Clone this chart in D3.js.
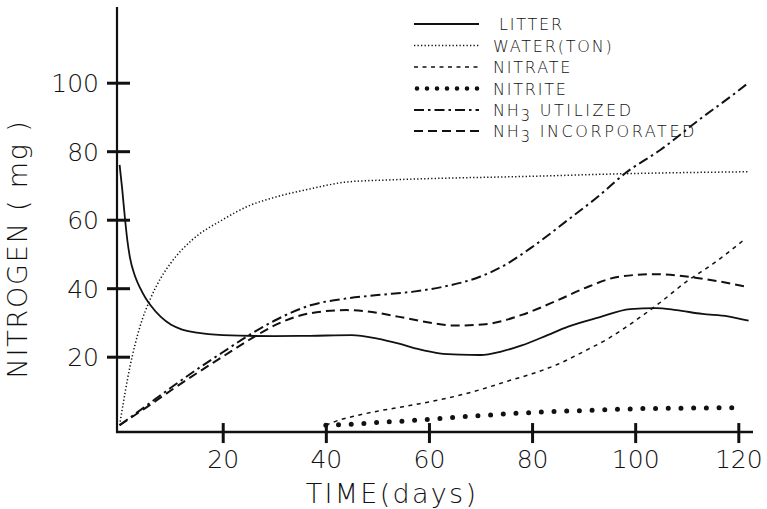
<!DOCTYPE html>
<html>
<head>
<meta charset="utf-8">
<script src="https://cdn.jsdelivr.net/npm/d3@7"></script>
<style>
  html, body { margin: 0; padding: 0; background: #fff; }
  svg { display: block; }
  text { font-family: "DejaVu Sans", sans-serif; fill: #111; }
</style>
</head>
<body>
<svg id="chart" width="767" height="509"></svg>
<script>
// ---- data (days, mg N) ----
const litterDays   = [0, 0.5, 1, 1.5, 2, 3, 4, 5, 6, 8, 10, 12, 15, 20, 30, 37, 45, 50, 54, 58, 62, 66, 70, 74, 78, 83, 87, 93, 99, 104, 108, 113, 118, 122];
const litterVals   = [76, 69, 61, 54, 49, 43.5, 40, 37.2, 35, 31.6, 29.3, 28, 27, 26.3, 26, 26.1, 26.3, 25.3, 23.9, 22.2, 21, 20.6, 20.5, 21.5, 23.3, 26.3, 28.8, 31.5, 33.9, 34.2, 33.6, 32.5, 31.8, 30.5];

const waterDays    = [0, 2, 4, 6, 8, 10, 14, 20, 25, 30, 37, 44, 52, 60, 78, 100, 122];
const waterVals    = [0, 17, 29, 37, 43, 47.5, 54, 60, 64, 66.5, 69, 71, 71.6, 72, 72.6, 73.5, 74];

const nitrateDays  = [40, 42, 46, 50, 55, 60, 65, 70, 76, 80, 85, 90, 95, 100, 105, 110, 115, 121];
const nitrateVals  = [0, 1.2, 2.8, 4.1, 5.4, 6.8, 8.4, 10.4, 13.2, 15, 17.8, 21.5, 25.5, 30.5, 36, 42, 47, 54];

const nitriteDays  = [40, 45, 50, 55, 60, 65, 70, 75, 80, 90, 100, 110, 120];
const nitriteVals  = [0, 0.3, 0.8, 1.2, 1.7, 2.3, 2.8, 3.3, 3.7, 4.3, 4.8, 5, 5.1];

const utilDays     = [0, 5, 10, 15, 20, 25, 30, 37, 44, 50, 57, 63, 70, 75, 80, 87, 93, 98, 105, 112.5, 119, 122];
const utilVals     = [0, 5.5, 11, 16.3, 21.3, 26.2, 30.5, 35, 37, 38, 39, 40.5, 43.4, 47, 52, 60, 67, 73.5, 80.5, 89.3, 96.5, 100];

const incorpDays   = [0, 5, 10, 15, 20, 25, 31, 37, 44, 50, 54, 60, 65, 71, 78, 85, 91, 97, 104, 112, 122];
const incorpVals   = [0, 5, 10.2, 15.2, 20, 24.8, 29.8, 32.7, 33.6, 32.8, 31.7, 30, 29.1, 29.5, 32.2, 36.5, 40.5, 43.4, 44.1, 43, 40.3];

const xTicks = [20, 40, 60, 80, 100, 120];
const yTicks = [20, 40, 60, 80, 100];

const seriesNames = ["LITTER", "WATER(TON)", "NITRATE", "NITRITE", "NH3 UTILIZED", "NH3 INCORPORATED"];

// ---- build ----
const svg = d3.select("#chart");
const x = d3.scaleLinear().domain([0, 120]).range([119.6, 738.3]);
const y = d3.scaleLinear().domain([0, 100]).range([425.2, 82.7]);

const axisX0 = 117;          // y-axis line position
const axisY0 = y(-2);        // x-axis line position

// axis lines
svg.append("line").attr("x1", axisX0).attr("x2", axisX0).attr("y1", 7).attr("y2", axisY0 + 1)
  .attr("stroke", "#111").attr("stroke-width", 2.2);
svg.append("line").attr("x1", axisX0 - 1).attr("x2", 753).attr("y1", axisY0).attr("y2", axisY0)
  .attr("stroke", "#111").attr("stroke-width", 2.4);

// y axis ticks / labels
const gy = svg.append("g").attr("transform", `translate(${axisX0},0)`)
  .call(d3.axisLeft(y).tickValues(yTicks).tickSize(10).tickFormat(d3.format("d")));
gy.select(".domain").remove();
gy.selectAll(".tick line").attr("x1", -10).attr("x2", 13).attr("stroke", "#111").attr("stroke-width", 3);
gy.selectAll(".tick text").attr("x", -18).attr("dy", "0.36em")
  .style("font-size", "25px").style("font-family", "DejaVu Sans").style("font-weight", "200").attr("fill", "#111");

// x axis ticks / labels
const gx = svg.append("g").attr("transform", `translate(0,${axisY0})`)
  .call(d3.axisBottom(x).tickValues(xTicks).tickSize(10).tickFormat(d3.format("d")));
gx.select(".domain").remove();
gx.selectAll(".tick line").attr("y1", -9).attr("y2", 11).attr("stroke", "#111").attr("stroke-width", 3);
gx.selectAll(".tick text").attr("y", 18).attr("dy", "0.71em")
  .style("font-size", "25px").style("font-family", "DejaVu Sans").style("font-weight", "200").attr("fill", "#111");

// axis titles
svg.append("text").attr("x", 392).attr("y", 503).attr("text-anchor", "middle")
  .style("font-size", "27px").style("font-weight", "200").style("letter-spacing", "2.3px")
  .text("TIME(days)");
svg.append("text").attr("transform", "translate(27,249) rotate(-90)").attr("text-anchor", "middle")
  .style("font-size", "27px").style("font-weight", "200").style("letter-spacing", "1.8px")
  .text("NITROGEN ( mg )");

// series
const styles = [
  { days: litterDays,  vals: litterVals,  dash: null,          width: 1.8, cap: "butt" },
  { days: waterDays,   vals: waterVals,   dash: "1.3,2.2",     width: 1.5, cap: "butt" },
  { days: nitrateDays, vals: nitrateVals, dash: "4,4.5",       width: 1.5, cap: "butt" },
  { days: nitriteDays, vals: nitriteVals, dash: "0,12.7",      width: 5,   cap: "round" },
  { days: utilDays,    vals: utilVals,    dash: "10,4,2.5,4",  width: 2,   cap: "butt" },
  { days: incorpDays,  vals: incorpVals,  dash: "9,5",         width: 2,   cap: "butt" }
];

const line = d3.line().x(d => x(d[0])).y(d => y(d[1])).curve(d3.curveMonotoneX);

styles.forEach(s => {
  const pts = s.days.map((d, i) => [d, s.vals[i]]);
  svg.append("path").datum(pts).attr("d", line)
    .attr("fill", "none").attr("stroke", "#111")
    .attr("stroke-width", s.width)
    .attr("stroke-linecap", s.cap)
    .attr("stroke-dasharray", s.dash);
});

// legend
const legendY = [24, 45.5, 67, 88.5, 110, 131];
const legendDash = [null, "1.3,2.2", "4,4.5", "0,10", "10,4,2.5,4", "9,5"];
const lg = svg.append("g");
seriesNames.forEach((name, i) => {
  const s = styles[i];
  lg.append("line").attr("x1", i === 3 ? 417 : 414).attr("x2", 479)
    .attr("y1", legendY[i]).attr("y2", legendY[i])
    .attr("stroke", "#111").attr("stroke-width", i === 3 ? 4.6 : s.width)
    .attr("stroke-linecap", s.cap).attr("stroke-dasharray", legendDash[i]);
  const t = lg.append("text").attr("x", i === 0 ? 499 : 493).attr("y", legendY[i] + 6)
    .style("font-size", "16px").style("font-weight", "200").style("letter-spacing", "1.8px");
  if (name.startsWith("NH3")) {
    t.append("tspan").text("NH");
    t.append("tspan").attr("dy", 5).style("font-size", "15px").text("3");
    t.append("tspan").attr("dy", -5).style("letter-spacing", "2.6px").text(" " + name.slice(4));
  } else {
    t.text(name);
  }
});
</script>
</body>
</html>
